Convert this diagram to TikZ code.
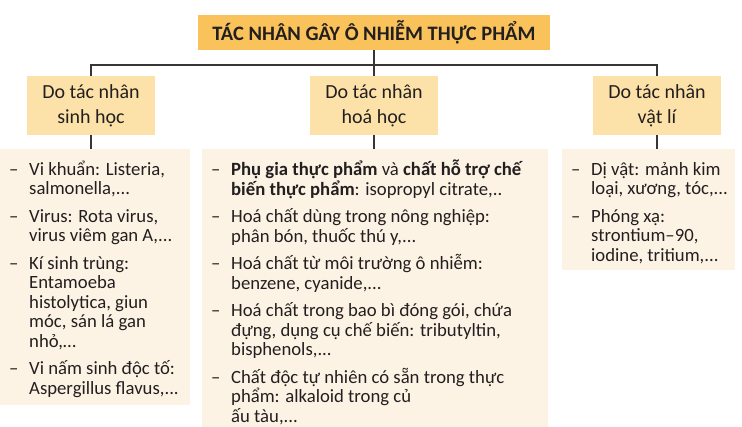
\documentclass[tikz,border=0pt]{standalone}
\usepackage{fontspec}
\setmainfont{Carlito}
\usetikzlibrary{positioning}
\definecolor{titlefill}{RGB}{249,194,90}
\definecolor{headfill}{RGB}{252,226,168}
\definecolor{bodyfill}{RGB}{253,243,228}
\definecolor{ink}{RGB}{35,31,32}
\tikzset{
    title/.style = {rectangle, fill=titlefill, minimum width=352pt, minimum height=35pt, text=ink, font=\fontsize{20.5}{22}\selectfont\bfseries},
    head/.style = {rectangle, fill=headfill, minimum width=128pt, minimum height=59pt, align=center, text=ink, font=\fontsize{20}{25}\selectfont},
    body/.style = {rectangle, fill=bodyfill, anchor=north west, inner xsep=9pt, inner ysep=11pt, text=ink, font=\fontsize{18.7}{19.5}\selectfont},
    link/.style = {draw=ink!90, line width=1.2pt},
}
% one dash item of a list, with hanging lines
\newcommand{\itm}[1]{\par\hangindent=20pt\hangafter=1\noindent\makebox[20pt][l]{\rule{0pt}{15pt}–}#1}
\newcommand{\lst}[3]{\makebox[#2][l]{\parbox[t][#1][t]{\dimexpr#2+40pt\relax}{\lineskiplimit=-30pt\setlength{\parskip}{8pt}#3}}}

\begin{document}
\begin{tikzpicture}[x=1pt,y=-1pt]
\useasboundingbox (0,0) rectangle (742,427);
\node[title] at (374,32.5) (top) {TÁC NHÂN GÂY Ô NHIỄM THỰC PHẨM};
\node[head] at (91,105.5) (bio) {Do tác nhân\\ sinh học};
\node[head] at (374,105.5) (chem) {Do tác nhân\\ hoá học};
\node[head] at (657,105.5) (phys) {Do tác nhân\\ vật lí};
\coordinate (bus) at (0,65);
%
\node[body] at (0,149) (bioList) {\lst{234pt}{172pt}{%
\itm{Vi khuẩn: Listeria,\\ salmonella,...}
\itm{Virus: Rota virus,\\ virus viêm gan A,...}
\itm{Kí sinh trùng:\\ Entamoeba\\ histolytica, giun\\ móc, sán lá gan\\ nhỏ,…}
\itm{Vi nấm sinh độc tố:\\ Aspergillus flavus,...}}};
\node[body] at (202,149) (chemList) {\lst{270pt}{328pt}{%
\itm{\textbf{Phụ gia thực phẩm} và \textbf{chất hỗ trợ chế}\\ \textbf{biến thực phẩm}: isopropyl citrate,..}
\itm{Hoá chất dùng trong nông nghiệp:\\ phân bón, thuốc thú y,...}
\itm{Hoá chất từ môi trường ô nhiễm:\\ benzene, cyanide,...}
\itm{Hoá chất trong bao bì đóng gói, chứa\\ đựng, dụng cụ chế biến: tributyltin,\\ bisphenols,...}
\itm{Chất độc tự nhiên có sẵn trong thực\\ phẩm: alkaloid trong củ\\ ấu tàu,...}}};
\node[body] at (562,149) (physList) {\lst{99pt}{155pt}{%
\itm{Dị vật: mảnh kim\\ loại, xương, tóc,...}
\itm{Phóng xạ:\\ strontium–90,\\ iodine, tritium,...}}};
%
\draw[link] (top.south) -- (chem.north);
\draw[link] (bio.north) -- (bio.north |- bus) -- (phys.north |- bus) -- (phys.north);
\draw[link] (bio.south) -- (bio.south |- bioList.north);
\draw[link] (chem.south) -- (chem.south |- chemList.north);
\draw[link] (phys.south) -- (phys.south |- physList.north);
\end{tikzpicture}
\end{document}
